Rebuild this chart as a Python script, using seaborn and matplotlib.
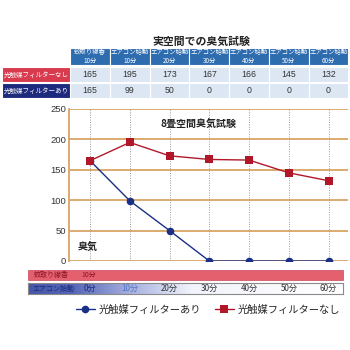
import numpy as np
import pandas as pd
import matplotlib
matplotlib.use("Agg")
import matplotlib.pyplot as plt
import matplotlib.transforms as mtrans
from matplotlib.patches import Rectangle
from matplotlib.colors import LinearSegmentedColormap
import seaborn as sns

# ---- data ----
table_title = "実空間での臭気試験"
chart_title = "8畳空間臭気試験"
y_label_text = "臭気"
col_headers = ["蚊取り線香\n10分", "エアコン始動\n10分", "エアコン始動\n20分", "エアコン始動\n30分",
               "エアコン始動\n40分", "エアコン始動\n50分", "エアコン始動\n60分"]
series_names = ["光触媒フィルターあり", "光触媒フィルターなし"]
values_with = [165, 99, 50, 0, 0, 0, 0]        # 光触媒フィルターあり
values_without = [165, 195, 173, 167, 166, 145, 132]  # 光触媒フィルターなし
aircon_labels = ["0分", "10分", "20分", "30分", "40分", "50分", "60分"]
mosquito_label = ["蚊取り線香", "10分"]
aircon_title = "エアコン始動"
y_ticks = [0, 50, 100, 150, 200, 250]

sns.set_theme(style="white")
plt.rcParams['font.family'] = ['Noto Sans CJK JP', 'DejaVu Sans']

W = H = 350
fig = plt.figure(figsize=(3.5, 3.5), dpi=100, facecolor="white")

def fx(x):
    return x / W

def fy(y):
    return 1 - y / H

# gradient bar axes (drawn first)
bar_ax = fig.add_axes([fx(28), fy(294), fx(343) - fx(28), fy(283) - fy(294)])
cmap = LinearSegmentedColormap.from_list(
    "g", [(0, "#4656a8"), (0.14, "#5666b6"), (0.33, "#a7b2e0"), (0.52, "#f2f3fb"), (1, "#ffffff")])
bar_ax.imshow(np.linspace(0, 1, 300)[None, :], aspect="auto", cmap=cmap, extent=(0, 1, 0, 1))
bar_ax.set_xticks([]); bar_ax.set_yticks([])
for s in bar_ax.spines.values():
    s.set_color("#8a8a8a"); s.set_linewidth(0.8)

# main axes
ax = fig.add_axes([fx(69), fy(261), fx(348) - fx(69), fy(109) - fy(261)])
red = "#b0182a"
blue = "#1a2f86"
n = len(values_with)
df = pd.DataFrame({
    "pos": list(range(n)) * 2,
    "value": values_with + values_without,
    "series": [series_names[0]] * n + [series_names[1]] * n,
})
sns.lineplot(data=df, x="pos", y="value", hue="series", style="series",
             hue_order=series_names, style_order=series_names,
             palette={series_names[0]: blue, series_names[1]: red},
             markers={series_names[0]: "o", series_names[1]: "s"}, dashes=False,
             markersize=5.5, markeredgewidth=0, linewidth=1.0, ax=ax, zorder=5)
ax.set_xlim(-0.53, n - 1 + 0.49)
ax.set_ylim(0, 250)
ax.set_yticks(y_ticks)
ax.set_yticklabels([str(v) for v in y_ticks], fontsize=6.8, color="#333333", family=['Liberation Sans', 'DejaVu Sans'])
ax.set_xticks([])
ax.tick_params(axis="y", length=0, pad=2)
ax.set_xlabel(""); ax.set_ylabel("")
grid_c = "#d9a564"
for v in y_ticks:
    ax.axhline(v, color=grid_c, lw=1.3, zorder=1)
for i in range(n):
    ax.axvline(i, color="#9a9a9a", lw=0.7, ls=(0, (1, 1.5)), zorder=1)
for k, s in ax.spines.items():
    s.set_visible(k == "left")
ax.spines["left"].set_color(grid_c)
ax.spines["left"].set_linewidth(1.3)
ax.text(2.72, 0.9, chart_title, transform=mtrans.blended_transform_factory(ax.transData, ax.transAxes),
        ha="center", va="center", fontsize=7.2, fontweight="bold", color="#222222")
ax.text(-0.3, 24, y_label_text, ha="left", va="center", fontsize=7.2, fontweight="bold", color="#222222")

handles, labels = ax.get_legend_handles_labels()
ax.get_legend().remove()
fig.legend(handles, labels, loc="center", bbox_to_anchor=(fx(208), fy(310)), ncol=2, frameon=False,
           fontsize=7.4, handlelength=1.9, handletextpad=0.35, columnspacing=1.3)

# blended transform: x in data, y in figure
bt = mtrans.blended_transform_factory(ax.transData, fig.transFigure)

# ---- table ----
fig.text(fx(201), fy(42), table_title, ha="center", va="center", fontsize=7.8, fontweight="bold", color="#222222")
hdr_blue = "#2e6cb0"
body_c = "#dce7f3"
rows = [(values_without, "#d83a4e", series_names[1]), (values_with, "#1d2a7e", series_names[0])]
row_y = [(67, 82), (83, 98)]
for i in range(n):
    ax.add_patch(Rectangle((i - 0.5, fy(65)), 1, fy(48) - fy(65), transform=bt, clip_on=False,
                           facecolor=hdr_blue, edgecolor="white", lw=0.8))
    ax.text(i, fy(56.5), col_headers[i], transform=bt, ha="center", va="center", fontsize=4.55,
            color="white", linespacing=1.1)
    for (vals, _, _), (y0, y1) in zip(rows, row_y):
        ax.add_patch(Rectangle((i - 0.5, fy(y1)), 1, fy(y0) - fy(y1), transform=bt, clip_on=False,
                               facecolor=body_c, edgecolor="white", lw=0.8))
        ax.text(i, fy((y0 + y1) / 2), str(vals[i]), transform=bt, ha="center", va="center",
                fontsize=6.3, color="#333333", family=['Liberation Sans', 'DejaVu Sans'])
for (vals, colr, name), (y0, y1) in zip(rows, row_y):
    fig.add_artist(Rectangle((fx(2), fy(y1)), fx(70) - fx(2), fy(y0) - fy(y1), transform=fig.transFigure,
                             facecolor=colr, edgecolor="white", lw=0.8))
    fig.text(fx(36), fy((y0 + y1) / 2), name, ha="center", va="center", fontsize=4.7, color="white")

# ---- pink bar ----
fig.add_artist(Rectangle((fx(28), fy(280)), fx(343) - fx(28), fy(270) - fy(280), transform=fig.transFigure,
                         facecolor="#e5606e", edgecolor="#c9485a", lw=0.5))
fig.text(fx(34), fy(275), mosquito_label[0], ha="left", va="center", fontsize=5.0, color="#8a1426")
fig.text(fx(81), fy(275), mosquito_label[1], ha="left", va="center", fontsize=5.0, color="#8a1426")

# ---- aircon bar labels ----
fig.text(fx(32), fy(288.5), aircon_title, ha="left", va="center", fontsize=5.0, color="#1d2a7e")
lab_colors = ["#1d2a7e", "#5572c8"] + ["#333333"] * (n - 2)
for i, lab in enumerate(aircon_labels):
    ax.text(i, fy(288.5), lab, transform=bt, ha="center", va="center", fontsize=5.8, color=lab_colors[i])

fig.savefig("out.png", dpi=100, facecolor="white")
